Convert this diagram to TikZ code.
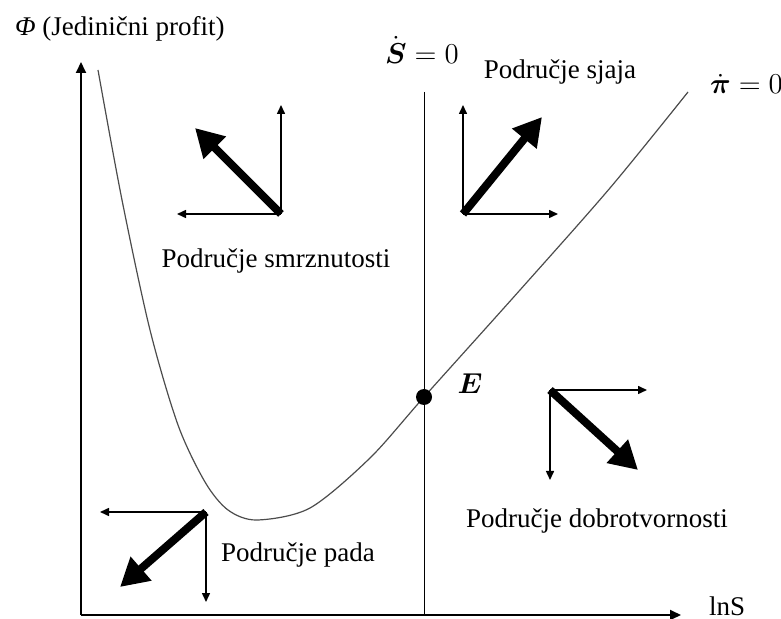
\documentclass[tikz,border=0pt]{standalone}
\usepackage{amsmath,amssymb}
\usepackage{fontspec}
\setmainfont{Liberation Serif}
\usetikzlibrary{arrows.meta}

\begin{document}
\begin{tikzpicture}[x=0.5pt,y=-0.5pt,font=\fontsize{13.5}{16}\selectfont,
  axis/.style={-{Triangle[length=5.5pt,width=5pt]},line width=0.9pt},
  small/.style={-{Triangle[length=4.5pt,width=4pt]},line width=0.75pt},
  big/.style={-{Triangle[length=14pt,width=15pt]},line width=4pt}]
  \useasboundingbox (0,0) rectangle (781,619);
  % axes
  \coordinate (O) at (81,615);
  \draw[axis] (O) -- (681,615);
  \draw[axis] (O) -- (81,62);
  \node (lnS) at (727,606) {lnS};
  \node[anchor=west] (phi) at (8,29) {{\itshape Φ} (Jedini\v{c}ni profit)};
  % S dot = 0
  \coordinate (Stop) at (424,92);
  \draw[line width=0.5pt] (Stop) -- (424,615);
  \node (Sdot) at (422,50) {$\dot{\boldsymbol{S}}=0$};
  % pi dot = 0
  \draw[gray!60!black,line width=0.6pt] plot[smooth] coordinates {(98,70) (122,200) (150,330) (178,425) (205,482) (228,510) (257,520) (310,508) (370,458) (424,397) (520,290) (610,188) (688,92)};
  \node[anchor=west] (pidot) at (703,84) {$\dot{\boldsymbol{\pi}}=0$};
  \coordinate (E) at (424,397);
  \fill (E) circle (8);
  \node (Elab) at (470,384) {$\boldsymbol{E}$};
  % regions
  \coordinate (frz) at (281,214);
  \draw[small] (frz) -- ++(0,-109);
  \draw[small] (frz) -- ++(-104,0);
  \draw[big] (frz) -- ++(-86,-86);
  \node (smrz) at (276,261) {Podru\v{c}je smrznutosti};
  \coordinate (sja) at (463,214);
  \draw[small] (sja) -- ++(0,-109);
  \draw[small] (sja) -- ++(95,0);
  \draw[big] (sja) -- ++(79,-97);
  \node (sjaj) at (560,72) {Podru\v{c}je sjaja};
  \coordinate (dob) at (550,390);
  \draw[small] (dob) -- ++(97,0);
  \draw[small] (dob) -- ++(0,90);
  \draw[big] (dob) -- ++(88,80);
  \node (dobr) at (597,521) {Podru\v{c}je dobrotvornosti};
  \coordinate (pad) at (206,512);
  \draw[small] (pad) -- ++(-106,0);
  \draw[small] (pad) -- ++(0,90);
  \draw[big] (pad) -- ++(-86,75);
  \node (pada) at (298,555) {Podru\v{c}je pada};
\end{tikzpicture}
\end{document}
